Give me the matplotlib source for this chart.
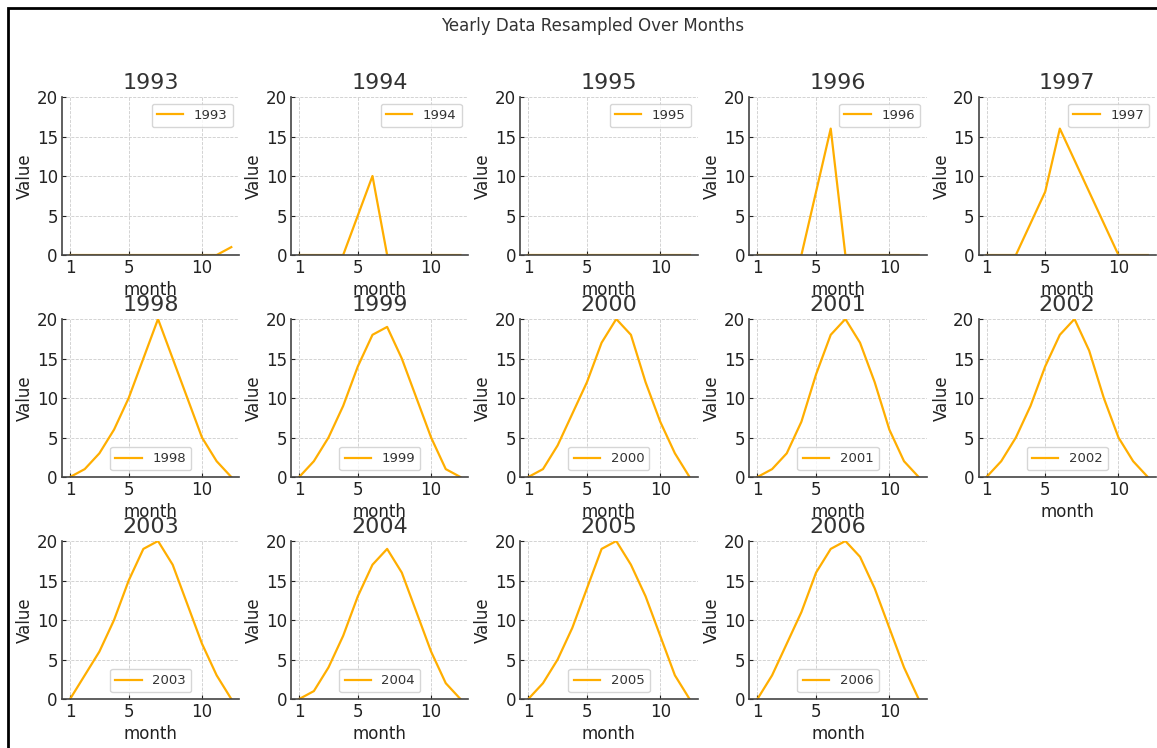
import matplotlib.pyplot as plt
from matplotlib.patches import Rectangle

years = [1993, 1994, 1995, 1996, 1997, 1998, 1999,
         2000, 2001, 2002, 2003, 2004, 2005, 2006]
months = list(range(1, 13))

values = {
    1993: [0, 0, 0, 0, 0, 0, 0, 0, 0, 0, 0, 1],
    1994: [0, 0, 0, 0, 5, 10, 0, 0, 0, 0, 0, 0],
    1995: [0, 0, 0, 0, 0, 0, 0, 0, 0, 0, 0, 0],
    1996: [0, 0, 0, 0, 8, 16, 0, 0, 0, 0, 0, 0],
    1997: [0, 0, 0, 4, 8, 16, 12, 8, 4, 0, 0, 0],
    1998: [0, 1, 3, 6, 10, 15, 20, 15, 10, 5, 2, 0],
    1999: [0, 2, 5, 9, 14, 18, 19, 15, 10, 5, 1, 0],
    2000: [0, 1, 4, 8, 12, 17, 20, 18, 12, 7, 3, 0],
    2001: [0, 1, 3, 7, 13, 18, 20, 17, 12, 6, 2, 0],
    2002: [0, 2, 5, 9, 14, 18, 20, 16, 10, 5, 2, 0],
    2003: [0, 3, 6, 10, 15, 19, 20, 17, 12, 7, 3, 0],
    2004: [0, 1, 4, 8, 13, 17, 19, 16, 11, 6, 2, 0],
    2005: [0, 2, 5, 9, 14, 19, 20, 17, 13, 8, 3, 0],
    2006: [0, 3, 7, 11, 16, 19, 20, 18, 14, 9, 4, 0],
}

line_color = '#ffae00'
text_color = '#333333'

fig, axes = plt.subplots(3, 5, figsize=(11.57, 7.48), dpi=100)
fig.subplots_adjust(left=0.0536, right=0.999, top=0.8703, bottom=0.0655,
                    wspace=0.292, hspace=0.405)

for i, ax in enumerate(axes.flat):
    if i >= len(years):
        ax.remove()
        continue
    yr = years[i]
    ax.plot(months, values[yr], color=line_color, linewidth=1.6, label=str(yr))
    ax.set_title(str(yr), fontsize=16, color=text_color, pad=6)
    ax.set_xlabel('month', fontsize=12, color='#222222', labelpad=3)
    ax.set_ylabel('Value', fontsize=12, color='#222222', labelpad=2)
    ax.set_ylim(0, 20)
    ax.set_yticks([0, 5, 10, 15, 20])
    ax.set_xticks([1, 5, 10])
    ax.tick_params(direction='in', labelsize=12, colors='#222222', length=3, pad=3)
    ax.grid(True, linestyle='--', linewidth=0.6, color='#cccccc')
    for side in ['top', 'right']:
        ax.spines[side].set_visible(False)
    for side in ['left', 'bottom']:
        ax.spines[side].set_color('#444444')
        ax.spines[side].set_linewidth(1.2)
    loc = 'upper right' if yr < 1998 else 'lower center'
    leg = ax.legend(loc=loc, fontsize=9.5, frameon=True)
    for t in leg.get_texts():
        t.set_color(text_color)

fig.text(0.512, 0.965, 'Yearly Data Resampled Over Months', ha='center', va='center',
         fontsize=12, color=text_color)

# outer frame
fig.patches.append(Rectangle((8 / 1157, -0.1), 1.2, 1.1 - 8 / 748,
                             transform=fig.transFigure, fill=False,
                             edgecolor='black', linewidth=2, clip_on=False))

fig.savefig('out.png', dpi=100)
